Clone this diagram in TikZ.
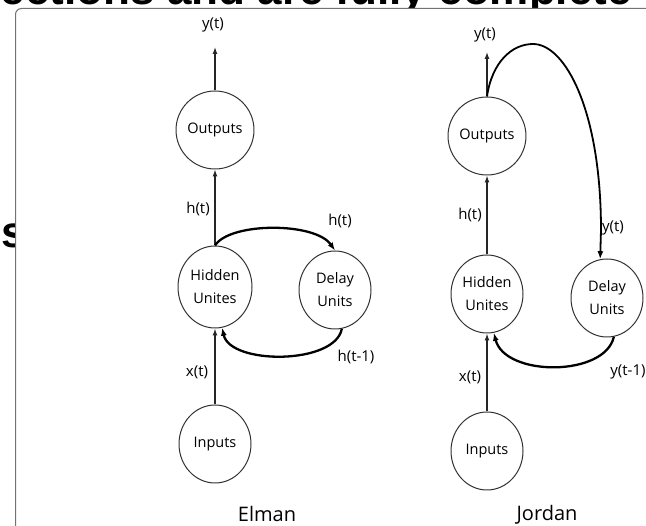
\documentclass[tikz,border=0pt]{standalone}
\usepackage{fontspec}
\setmainfont{Open Sans}
\newfontfamily\headfont{Liberation Sans}
\usetikzlibrary{arrows.meta,shapes.geometric}

\begin{document}
\begin{tikzpicture}[x=1pt, y=-1pt, font=\fontsize{15}{17}\selectfont,
  unit/.style={ellipse, draw=black!80, line width=1pt, minimum width=72pt,
    minimum height=78pt, inner sep=0pt, align=center,
    font=\fontsize{14.5}{23}\selectfont},
  lab/.style={inner sep=0pt},
  feed/.style={black!85, line width=1.3pt, -{Latex[length=7pt,width=5pt]}},
  loop/.style={line width=2.3pt, -{Latex[length=8pt,width=6pt]}},
  title/.style={inner sep=0pt, anchor=base, font=\fontsize{20}{24}\selectfont}]
  \useasboundingbox (0,0) rectangle (646,526);
  \clip (0,0) rectangle (646,526);

  % 截图上方残留的文字
  \begin{scope}
    \clip (0,0) rectangle (646,8.5);
    \node[anchor=base east, inner sep=0pt,
      font=\headfont\bfseries\fontsize{44}{44}\selectfont] (head) at (632,5)
      {connections and are fully complete};
  \end{scope}
  \node[anchor=base west, inner sep=0pt,
    font=\headfont\bfseries\fontsize{44}{44}\selectfont] (tail) at (1,248) {s};

  % 图框
  \draw[black!55, line width=1pt, fill=white, rounded corners=6pt]
    (15.5,8.5) rectangle (700,600);

  % Elman 网络
  \node[unit] (eo) at (215,130) {Outputs};
  \node[unit, minimum width=74pt, minimum height=82pt] (eh) at (215,287) {Hidden\\Unites};
  \node[unit] (ed) at (335,290) {Delay\\Units};
  \node[unit] (ei) at (215,444) {Inputs};
  \coordinate (etop) at (215,47); % 输出箭头终点

  \draw[feed] (eo) -- (etop);
  \draw[feed] (eh) -- (eo);
  \draw[feed] (ei) -- (eh);
  \draw[loop] (eh.north) .. controls (230,222) and (315,222) .. (ed.north);
  \draw[loop] (ed.-80) .. controls (335,365) and (230,365) .. (eh.-80);

  \node[lab] (eyt) at (213,25) {y(t)};
  \node[lab] (eht) at (198,209) {h(t)};
  \node[lab] (ehc) at (340,221) {h(t)};
  \node[lab] (ehd) at (356,357) {h(t-1)};
  \node[lab] (ext) at (197,372) {x(t)};
  \node[title] (elman) at (267,522) {Elman};

  % Jordan 网络
  \node[unit] (jo) at (487,136) {Outputs};
  \node[unit] (jh) at (487,294) {Hidden\\Unites};
  \node[unit] (jd) at (607,298) {Delay\\Units};
  \node[unit] (ji) at (487,451) {Inputs};
  \coordinate (jtop) at (487,52); % 输出箭头终点

  \draw[feed] (jo) -- (jtop);
  \draw[feed] (jh) -- (jo);
  \draw[feed] (ji) -- (jh);
  \draw[loop, line width=1.8pt] (jo.north) .. controls (492,62) and (512,44) .. (533,44)
    .. controls (565,44) and (601,110) .. (601,230) -- (jd.100);
  \draw[loop] (jd.-80) .. controls (605,377) and (505,377) .. (jh.-80);

  \node[lab] (jyt) at (485,35) {y(t)};
  \node[lab] (jht) at (470,215) {h(t)};
  \node[lab] (jyc) at (613,228) {y(t)};
  \node[lab] (jyd) at (628,372) {y(t-1)};
  \node[lab] (jxt) at (470,377) {x(t)};
  \node[title] (jordan) at (547,521) {Jordan};
\end{tikzpicture}
\end{document}
